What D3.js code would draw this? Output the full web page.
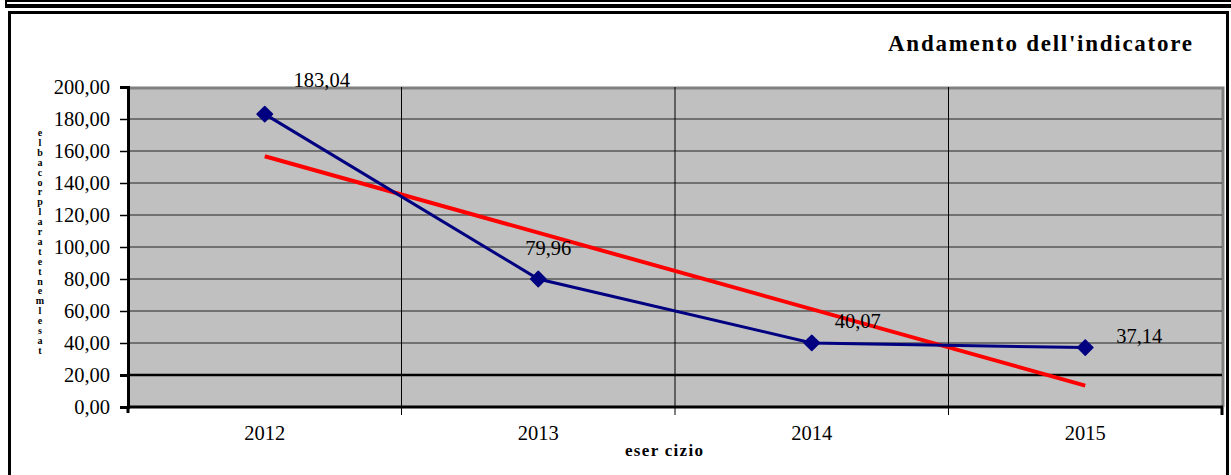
<!DOCTYPE html>
<html lang="it">
	<head>
		<meta charset="utf-8">
		<title>Andamento dell'indicatore</title>
		<script type="text/javascript" src="https://cdn.jsdelivr.net/npm/d3@7"></script>
		<style type="text/css">
			body { margin: 0; background: #fff; }
			text { font-family: "Liberation Serif", "Times New Roman", serif; fill: #000; }
		</style>
	</head>
	<body>
		<script type="text/javascript">

			// Data
			var years = ["2012", "2013", "2014", "2015"];
			var values = [183.04, 79.96, 40.07, 37.14];
			var valueLabels = ["183,04", "79,96", "40,07", "37,14"];
			// linear trend, endpoints as read
			var trendYears = ["2012", "2015"];
			var trendValues = [156.7, 13.4];
			var yTicks = [0, 20, 40, 60, 80, 100, 120, 140, 160, 180, 200];
			var axisLabelChars = "elbacorplaratetnemlesat".split("");

			// manual label offsets (px) like in the original sheet
			var labelDx = [57, 10, 46, 54];
			var labelDy = [-27, -24, -15, -5];

			var w = 1231;
			var h = 475;
			var plot = { left: 128, right: 1222, top: 87, bottom: 407 };

			var svg = d3.select("body")
						.append("svg")
						.attr("width", w)
						.attr("height", h);

			// frame of the previous block and the chart box
			svg.append("line").attr("x1", 5).attr("x2", 1231).attr("y1", 1).attr("y2", 1).attr("stroke", "#000").attr("stroke-width", 2);
			svg.append("line").attr("x1", 5).attr("x2", 1231).attr("y1", 6).attr("y2", 6).attr("stroke", "#000").attr("stroke-width", 4);
			svg.append("line").attr("x1", 6).attr("x2", 6).attr("y1", 0).attr("y2", 8).attr("stroke", "#000").attr("stroke-width", 2);
			svg.append("rect")
				.attr("x", 9.5).attr("y", 12.5)
				.attr("width", 1218).attr("height", 480)
				.attr("fill", "#fff")
				.attr("stroke", "#000")
				.attr("stroke-width", 3);

			var x = d3.scaleBand()
					.domain(years)
					.range([plot.left, plot.right]);

			var y = d3.scaleLinear()
					.domain([0, 200])
					.range([plot.bottom, plot.top]);

			// plot area
			svg.append("rect")
				.attr("x", plot.left).attr("y", plot.top)
				.attr("width", plot.right - plot.left).attr("height", plot.bottom - plot.top)
				.attr("fill", "#c0c0c0");
			svg.append("path")
				.attr("d", "M" + plot.left + "," + (plot.top + 1) + "H" + (plot.right + 1) + "V" + plot.bottom)
				.attr("fill", "none")
				.attr("stroke", "#808080")
				.attr("stroke-width", 3);

			// horizontal gridlines
			svg.selectAll(".hgrid")
				.data(yTicks.filter(function(d) { return d > 0 && d < 200; }))
				.enter()
				.append("line")
				.attr("x1", plot.left).attr("x2", plot.right)
				.attr("y1", function(d) { return y(d); })
				.attr("y2", function(d) { return y(d); })
				.attr("stroke", function(d) { return d == 20 ? "#000" : "#222"; })
				.attr("stroke-width", function(d) { return d == 20 ? 2.5 : 1; });

			// vertical gridlines at category boundaries
			svg.selectAll(".vgrid")
				.data(years.slice(1))
				.enter()
				.append("line")
				.attr("x1", function(d) { return x(d); })
				.attr("x2", function(d) { return x(d); })
				.attr("y1", plot.top).attr("y2", plot.bottom + 8)
				.attr("stroke", "#000")
				.attr("stroke-width", 1);

			// y axis
			var yAxis = d3.axisLeft(y)
					.tickValues(yTicks)
					.tickSize(8)
					.tickPadding(10)
					.tickFormat(function(d) { return d3.format(".2f")(d).replace(".", ","); });
			var gy = svg.append("g")
					.attr("transform", "translate(" + plot.left + ",0)")
					.call(yAxis);
			gy.select(".domain").attr("stroke", "#000").attr("stroke-width", 3);
			gy.selectAll(".tick line")
				.attr("stroke", "#000")
				.attr("stroke-width", function(d) { return d <= 20 ? 3 : 1.5; });
			gy.selectAll(".tick text")
				.attr("font-family", "Liberation Serif")
				.attr("font-size", 20.5)
				.attr("fill", "#000");

			// x axis line
			svg.append("line")
				.attr("x1", plot.left - 1).attr("x2", plot.right + 1)
				.attr("y1", plot.bottom).attr("y2", plot.bottom)
				.attr("stroke", "#000").attr("stroke-width", 3);
			svg.append("line")
				.attr("x1", plot.right).attr("x2", plot.right)
				.attr("y1", plot.bottom).attr("y2", plot.bottom + 8)
				.attr("stroke", "#000").attr("stroke-width", 3);
			svg.append("line")
				.attr("x1", plot.left).attr("x2", plot.left)
				.attr("y1", plot.bottom).attr("y2", plot.bottom + 6)
				.attr("stroke", "#000").attr("stroke-width", 3);

			svg.selectAll(".year")
				.data(years)
				.enter()
				.append("text")
				.attr("x", function(d) { return x(d) + x.bandwidth() / 2; })
				.attr("y", 440)
				.attr("text-anchor", "middle")
				.attr("font-size", 20.5)
				.text(function(d) { return d; });

			// trend line
			svg.append("line")
				.attr("x1", x(trendYears[0]) + x.bandwidth() / 2)
				.attr("y1", y(trendValues[0]))
				.attr("x2", x(trendYears[1]) + x.bandwidth() / 2)
				.attr("y2", y(trendValues[1]))
				.attr("stroke", "#ff0000")
				.attr("stroke-width", 4);

			// series
			var line = d3.line()
					.x(function(d, i) { return x(years[i]) + x.bandwidth() / 2; })
					.y(function(d) { return y(d); });

			svg.append("path")
				.datum(values)
				.attr("d", line)
				.attr("fill", "none")
				.attr("stroke", "#000080")
				.attr("stroke-width", 3);

			svg.selectAll(".marker")
				.data(values)
				.enter()
				.append("path")
				.attr("d", d3.symbol().type(d3.symbolDiamond2).size(150))
				.attr("transform", function(d, i) {
					return "translate(" + (x(years[i]) + x.bandwidth() / 2) + "," + y(d) + ")";
				})
				.attr("fill", "#000080")
				.attr("stroke", "#000080")
				.attr("stroke-width", 1.5)
				.attr("stroke-linejoin", "round");

			svg.selectAll(".vlabel")
				.data(values)
				.enter()
				.append("text")
				.attr("x", function(d, i) { return x(years[i]) + x.bandwidth() / 2 + labelDx[i]; })
				.attr("y", function(d, i) { return y(d) + labelDy[i]; })
				.attr("text-anchor", "middle")
				.attr("font-size", 20.5)
				.text(function(d, i) { return valueLabels[i]; });

			// title
			svg.append("text")
				.attr("x", 1192)
				.attr("y", 51)
				.attr("text-anchor", "end")
				.attr("font-size", 23)
				.attr("font-weight", "bold")
				.attr("textLength", 304)
				.attr("lengthAdjust", "spacing")
				.text("Andamento dell'indicatore");

			// x axis title
			svg.append("text")
				.attr("x", 664)
				.attr("y", 456)
				.attr("text-anchor", "middle")
				.attr("font-size", 17)
				.attr("font-weight", "bold")
				.attr("textLength", 78)
				.attr("lengthAdjust", "spacing")
				.text("eser cizio");

			// garbled vertical y-axis title, one character per line
			svg.selectAll(".ychar")
				.data(axisLabelChars)
				.enter()
				.append("text")
				.attr("x", 40)
				.attr("y", function(d, i) { return 136 + i * 9.9; })
				.attr("text-anchor", "middle")
				.attr("font-size", 10)
				.attr("font-weight", "bold")
				.text(function(d) { return d; });

		</script>
	</body>
</html>
